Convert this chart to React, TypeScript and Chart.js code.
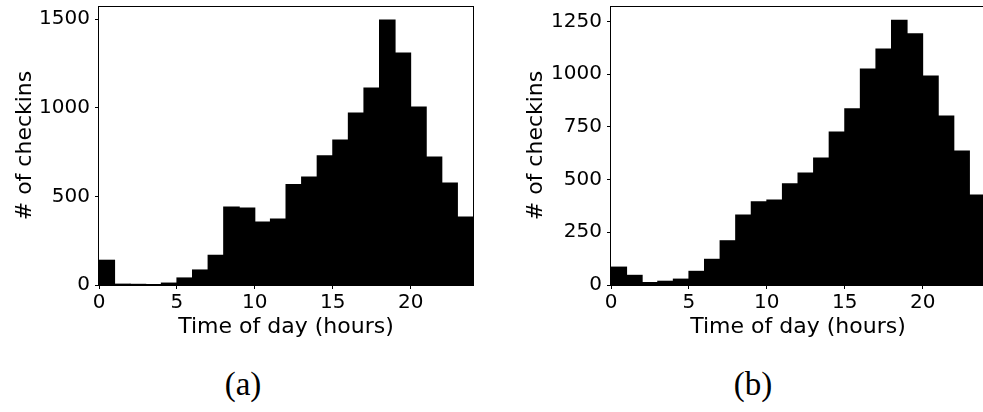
import React, { useEffect, useRef } from "react";
import { Chart, registerables } from "chart.js";

Chart.register(...registerables);

// Bin centres (one-hour bins, 0..24 h)
const binCenters = [0.5, 1.5, 2.5, 3.5, 4.5, 5.5, 6.5, 7.5, 8.5, 9.5, 10.5, 11.5, 12.5, 13.5, 14.5, 15.5, 16.5, 17.5, 18.5, 19.5, 20.5, 21.5, 22.5, 23.5];

// (a) check-ins per hour
const checkinsA = [140, 5, 4, 1, 11, 40, 85, 168, 440, 435, 356, 373, 567, 610, 730, 819, 971, 1112, 1496, 1310, 1005, 723, 576, 384];
// (b) check-ins per hour
const checkinsB = [85, 46, 12, 18, 28, 65, 122, 210, 332, 395, 403, 480, 531, 602, 725, 836, 1024, 1119, 1256, 1192, 991, 801, 635, 427];

const xTicks = [0, 5, 10, 15, 20];
const yTicksA = [0, 500, 1000, 1500];
const yTicksB = [0, 250, 500, 750, 1000, 1250];
const xRange = [0, 24];
const yMaxA = 1575;
const yMaxB = 1323;

const xTitle = "Time of day (hours)";
const yTitle = "# of checkins";
const captions = ["(a)", "(b)"];

const FONT = "'DejaVu Sans', sans-serif";

const framePlugin = {
  id: "frame",
  afterDraw(chart: any) {
    const { ctx, chartArea } = chart;
    const { left, top, right, bottom } = chartArea;
    ctx.save();
    ctx.strokeStyle = "#000";
    ctx.lineWidth = 1;
    ctx.strokeRect(Math.round(left) - 0.5, Math.round(top) + 0.5, Math.round(right) - Math.round(left) + 1, Math.round(bottom) - Math.round(top));
    ctx.restore();
  },
};

type HistProps = {
  values: number[];
  yMax: number;
  yTicks: number[];
  canvasLeft: number;
  canvasWidth: number;
  yAxisWidth: number;
  yTitlePad: number;
  rightPad: number;
};

function Hist({ values, yMax, yTicks, canvasLeft, canvasWidth, yAxisWidth, yTitlePad, rightPad }: HistProps) {
  const ref = useRef<HTMLCanvasElement | null>(null);
  useEffect(() => {
    if (!ref.current) return;
    const chart = new Chart(ref.current, {
      type: "bar",
      data: {
        datasets: [
          {
            data: binCenters.map((x, i) => ({ x, y: values[i] })),
            backgroundColor: "#000",
            borderWidth: 0,
            inflateAmount: 0.5,
            barPercentage: 1,
            categoryPercentage: 1,
          },
        ],
      },
      options: {
        responsive: false,
        animation: false,
        events: [],
        layout: { padding: { left: 0, top: 6, right: rightPad, bottom: 0 } },
        plugins: { legend: { display: false }, tooltip: { enabled: false } },
        scales: {
          x: {
            type: "linear",
            min: xRange[0],
            max: xRange[1],
            offset: false,
            afterBuildTicks: (s: any) => {
              s.ticks = xTicks.map((v) => ({ value: v }));
            },
            afterFit: (s: any) => {
              s.height = 65;
              s.paddingLeft = 0;
              s.paddingRight = 0;
            },
            grid: { display: true, drawOnChartArea: false, drawTicks: true, tickLength: 4, tickColor: "#000", offset: false },
            border: { display: false },
            ticks: { color: "#000", font: { family: FONT, size: 20, lineHeight: 1.2 }, padding: 2, autoSkip: false, maxRotation: 0, callback: (v: any) => String(v) },
            title: { display: true, text: xTitle, color: "#000", font: { family: FONT, size: 22, lineHeight: 1.2 }, padding: { top: 0, bottom: 10 } },
          },
          y: {
            type: "linear",
            min: 0,
            max: yMax,
            afterBuildTicks: (s: any) => {
              s.ticks = yTicks.map((v) => ({ value: v }));
            },
            afterFit: (s: any) => {
              s.width = yAxisWidth;
              s.paddingTop = 0;
              s.paddingBottom = 0;
            },
            grid: { display: true, drawOnChartArea: false, drawTicks: true, tickLength: 4, tickColor: "#000" },
            border: { display: false },
            ticks: { color: "#000", font: { family: FONT, size: 20, lineHeight: 1.2 }, padding: 5, autoSkip: false, callback: (v: any) => String(v) },
            title: { display: true, text: yTitle, color: "#000", font: { family: FONT, size: 22, lineHeight: 1.2 }, padding: { top: yTitlePad, bottom: 0 } },
          },
        },
      },
      plugins: [framePlugin],
    } as any);
    return () => chart.destroy();
  }, []);
  return (
    <canvas
      ref={ref}
      width={canvasWidth}
      height={350}
      style={{ position: "absolute", left: canvasLeft, top: 0, width: canvasWidth, height: 350 }}
    />
  );
}

export default function App() {
  return (
    <div style={{ position: "fixed", left: 0, top: 0, width: 983, height: 412, overflow: "hidden", background: "#fff" }}>
      <Hist values={checkinsA} yMax={yMaxA} yTicks={yTicksA} canvasLeft={0} canvasWidth={490} yAxisWidth={99} yTitlePad={12} rightPad={17} />
      <Hist values={checkinsB} yMax={yMaxB} yTicks={yTicksB} canvasLeft={490} canvasWidth={495} yAxisWidth={121} yTitlePad={33} rightPad={0} />
      <div style={{ position: "absolute", left: 193, width: 100, top: 368, textAlign: "center", fontFamily: "'Liberation Serif', serif", fontSize: 33, lineHeight: "33px", color: "#000" }}>{captions[0]}</div>
      <div style={{ position: "absolute", left: 703, width: 100, top: 368, textAlign: "center", fontFamily: "'Liberation Serif', serif", fontSize: 33, lineHeight: "33px", color: "#000" }}>{captions[1]}</div>
    </div>
  );
}
